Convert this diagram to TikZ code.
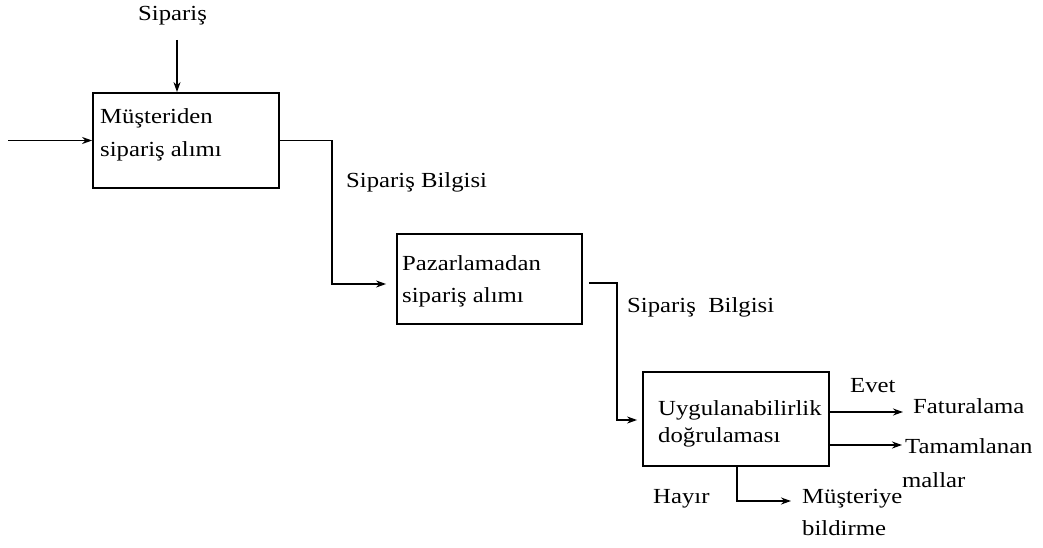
\documentclass[tikz,border=0pt]{standalone}
\usepackage{fontspec}
\setmainfont{Liberation Serif}[FakeStretch=1.15]
\usetikzlibrary{arrows.meta}
\begin{document}
\begin{tikzpicture}[x=1pt,y=-1pt,
  box/.style={draw, line width=1.8pt, inner sep=0pt},
  lbl/.style={anchor=base west, inner sep=0pt, font=\fontsize{21.5}{25}\selectfont},
  flow/.style={line width=1.6pt, -{Stealth[length=10pt,width=7pt]}}]
\useasboundingbox (0,0) rectangle (1043,548);

% process boxes
\node[box, minimum width=186pt, minimum height=95pt] (b1) at (186,140.5) {};
\node[box, minimum width=185pt, minimum height=90pt] (b2) at (489.5,279) {};
\node[box, minimum width=186pt, minimum height=94pt] (b3) at (736,419) {};

% box texts
\node[lbl] (t1a) at (100,124) {Müşteriden};
\node[lbl] (t1b) at (100,157) {sipariş alımı};
\node[lbl] (t2a) at (402,270) {Pazarlamadan};
\node[lbl] (t2b) at (402,302) {sipariş alımı};
\node[lbl] (t3a) at (658,415) {Uygulanabilirlik};
\node[lbl] (t3b) at (658,442) {doğrulaması};

% free labels
\node[lbl] (lsip) at (138,21) {Sipariş};
\node[lbl] (lbil1) at (346,187) {Sipariş Bilgisi};
\node[lbl] (lbil2) at (627,312) {Sipariş\ \ Bilgisi};
\node[lbl] (levet) at (850,392) {Evet};
\node[lbl] (lfat) at (913,413) {Faturalama};
\node[lbl] (ltam) at (905,453) {Tamamlanan};
\node[lbl] (lmal) at (902,487) {mallar};
\node[lbl] (lhay) at (653,503) {Hayır};
\node[lbl] (lmus) at (802,503) {Müşteriye};
\node[lbl] (lbild) at (802,535) {bildirme};

% free connector ends
\coordinate (in0) at (8,140.5);
\coordinate (top) at (177,40);
\coordinate (fat) at (903,412);
\coordinate (tam) at (902,445);
\coordinate (hay) at (791,501);

% connectors
\draw[flow] (top) -- (top |- b1.north);
\draw[flow] (in0) -- (b1.west);
\draw[flow, shorten >=10pt] (b1.east) -- (332,140.5) |- ([yshift=-5pt]b2.west);
\draw[flow, shorten >=5pt] ([xshift=6pt,yshift=-4pt]b2.east) -- (617,283) |- ([yshift=-1pt]b3.west);
\draw[flow] ([yshift=7pt]b3.east) -- (fat);
\draw[flow] ([yshift=-26pt]b3.east) -- (tam);
\draw[flow] ([xshift=1pt]b3.south) |- (hay);
\end{tikzpicture}
\end{document}
